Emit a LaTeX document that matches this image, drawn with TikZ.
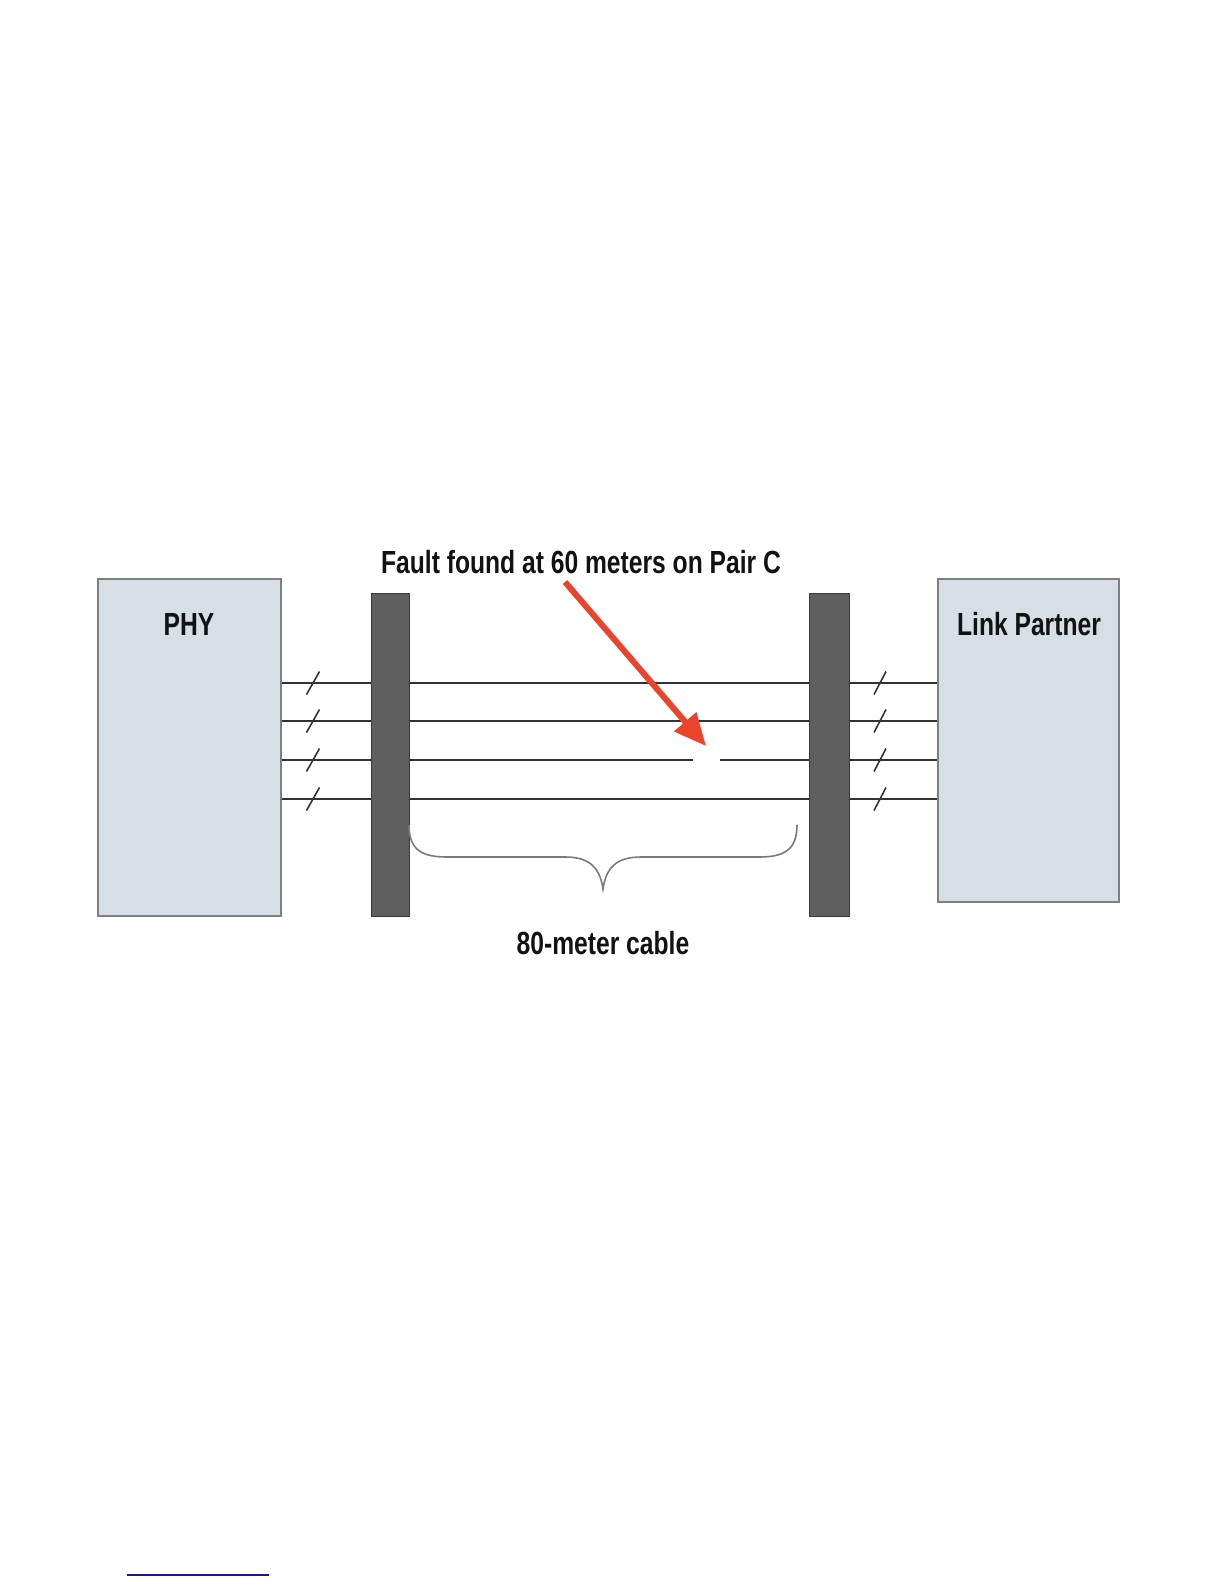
\documentclass[tikz,border=0pt]{standalone}
\usepackage{fontspec}
\setmainfont{Liberation Sans}
\newfontfamily\condbf[FakeStretch=0.77]{Liberation Sans Bold}
\usetikzlibrary{arrows.meta,calc}
\definecolor{boxfill}{HTML}{D6DEE6}
\definecolor{boxedge}{HTML}{7F7F7F}
\definecolor{barfill}{HTML}{5F5F5F}
\definecolor{baredge}{HTML}{3A3A3A}
\definecolor{wire}{HTML}{333333}
\definecolor{faultred}{HTML}{E8452C}
\definecolor{bracegray}{HTML}{7A7A7A}
\definecolor{linkblue}{HTML}{1A1A8C}
\tikzset{
  unitbox/.style={draw=boxedge, line width=0.75pt, fill=boxfill, rectangle, inner sep=0pt},
  connbar/.style={draw=baredge, line width=0.5pt, fill=barfill, rectangle, inner sep=0pt},
  wireline/.style={draw=wire, line width=1.1pt},
  slashmark/.style={draw=wire, line width=0.8pt},
  lbl/.style={font=\condbf\fontsize{16}{19}\selectfont, text=black!93, inner sep=0pt, anchor=center},
}
\begin{document}
\begin{tikzpicture}[x=0.5pt,y=-0.5pt]
\useasboundingbox (0,0) rectangle (1224,1584);
% boxes
\node[unitbox, minimum width=91.5pt, minimum height=168.5pt] (phy) at (189.5,747.5) {};
\node[unitbox, minimum width=90.5pt, minimum height=161.5pt] (lp) at (1028.5,740.5) {};
\node[connbar, minimum width=19pt, minimum height=161.5pt] (barL) at (390,754.5) {};
\node[connbar, minimum width=20pt, minimum height=161.5pt] (barR) at (829,754.5) {};
% labels
\node[lbl] (phyl) at (189,624) {PHY};
\node[lbl] (lpl) at (1029,624) {Link Partner};
\node[lbl] (title) at (581,562) {Fault found at 60 meters on Pair C};
\node[lbl] (len) at (603,943) {80-meter cable};
% wire levels
\coordinate (ya) at (0,683);
\coordinate (yb) at (0,721);
\coordinate (yc) at (0,760);
\coordinate (yd) at (0,799);
\coordinate (gapL) at (693,760);
\coordinate (gapR) at (720,760);
\foreach \y in {ya,yb,yc,yd}{
  \draw[wireline] (phy.east |- \y) -- (barL.west |- \y);
  \draw[wireline] (barR.east |- \y) -- (lp.west |- \y);
  \draw[slashmark] ($(313,0 |- \y)+(-6.5,11.5)$) -- ($(313,0 |- \y)+(6.5,-11.5)$);
  \draw[slashmark] ($(880,0 |- \y)+(-6,11.5)$) -- ($(880,0 |- \y)+(6,-11.5)$);
}
\draw[wireline] (barL.east |- ya) -- (barR.west |- ya);
\draw[wireline] (barL.east |- yb) -- (barR.west |- yb);
\draw[wireline] (barL.east |- yd) -- (barR.west |- yd);
\draw[wireline] (barL.east |- yc) -- (gapL);
\draw[wireline] (gapR) -- (barR.west |- yc);
% fault arrow
\coordinate (arrS) at (565,582);
\coordinate (arrE) at (706,746);
\draw[draw=faultred, line width=3pt, -{Triangle[length=16pt,width=14pt]}] (arrS) -- (arrE);
% brace
\coordinate (brL) at (409,825);
\coordinate (brR) at (797,825);
\coordinate (brT) at (603,889);
\draw[draw=bracegray, line width=0.8pt]
  (brL) .. controls (409,850) and (422,857) .. (447,857) -- (565,857)
  .. controls (590,857) and (600,868) .. (brT)
  .. controls (606,868) and (616,857) .. (641,857) -- (759,857)
  .. controls (784,857) and (797,850) .. (brR);
% stray underline at bottom
\coordinate (ulA) at (127,1575);
\coordinate (ulB) at (269,1575);
\draw[draw=linkblue, line width=0.8pt] (ulA) -- (ulB);
\end{tikzpicture}
\end{document}
